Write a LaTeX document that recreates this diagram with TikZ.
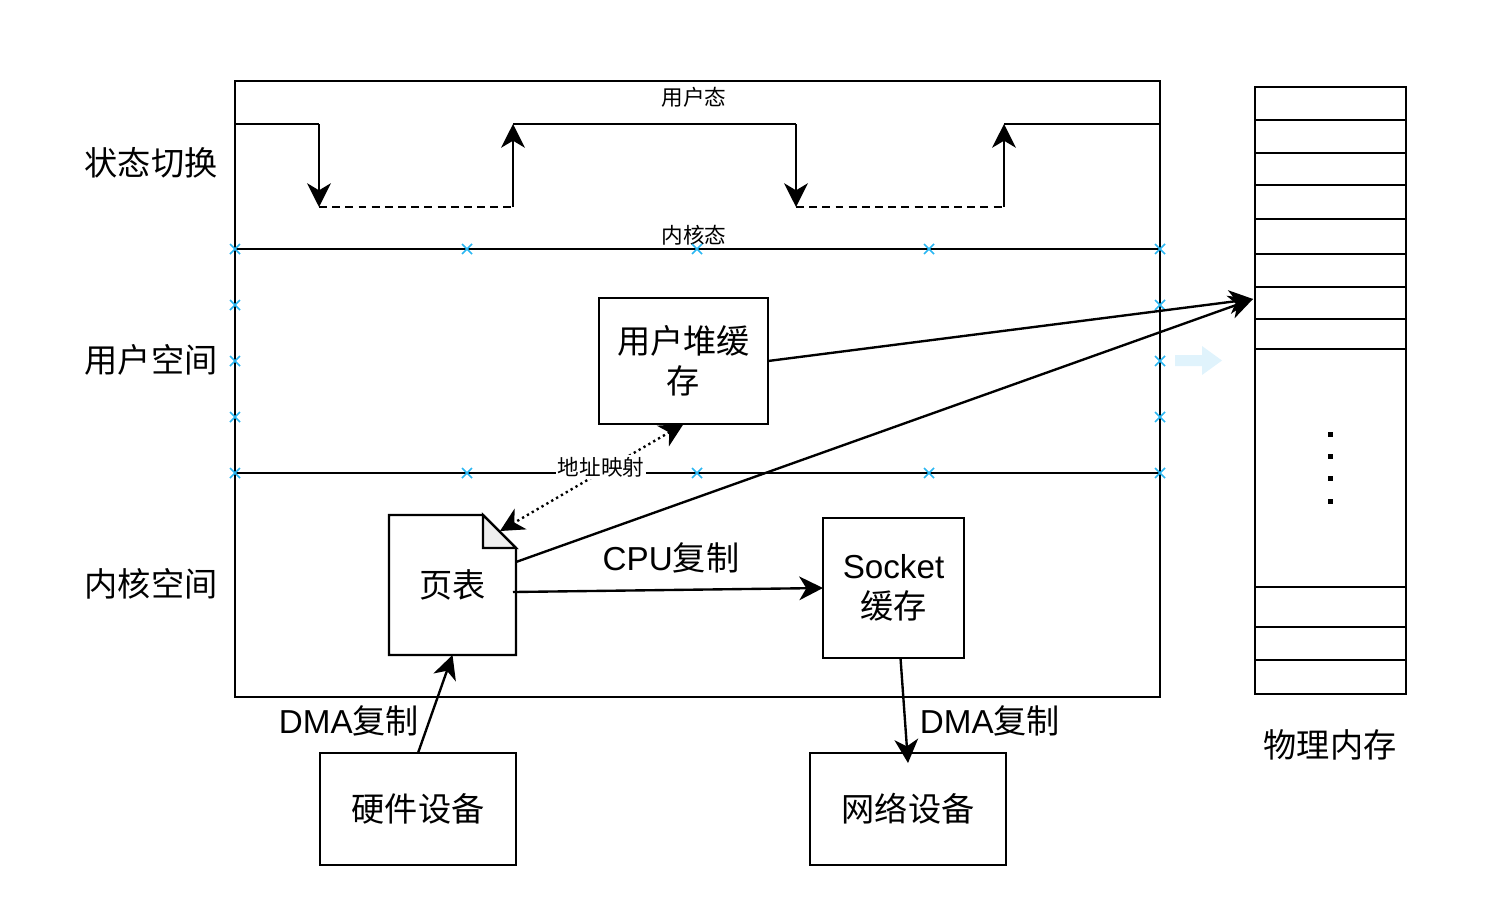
\documentclass[tikz,border=0pt]{standalone}
\usepackage{fontspec}
\setmainfont{Liberation Sans}
\newfontfamily\cjk{Noto Sans CJK SC}
\usetikzlibrary{arrows.meta,calc}

\newcommand\bigtxt{\cjk\fontsize{18.9}{23}\selectfont}
\newcommand\smalltxt{\cjk\fontsize{12.3}{15}\selectfont}
\newcommand\lat[1]{{\rmfamily #1}}

\definecolor{handleblue}{RGB}{41,182,242}
\definecolor{ghostblue}{RGB}{224,243,252}
\definecolor{foldgray}{RGB}{238,238,238}

\begin{document}
\begin{tikzpicture}[x=0.02cm, y=-0.02cm, >={Stealth[length=13.5pt,width=13.5pt,inset=4pt]},
  line/.style={line width=1.35pt},
  box/.style={draw, line width=1.35pt, inner sep=0pt, outer sep=0pt, align=center, font=\bigtxt},
  label/.style={font=\bigtxt, align=center},
  tiny/.style={font=\smalltxt, inner sep=1pt},
  handle/.style={draw=handleblue, line width=0.9pt}]
\useasboundingbox (0,0) rectangle (1486,910);

% ===== frame with the two layers =====
\draw[line] (235,81) rectangle (1160,697);
\draw[line] (235,249) -- (1160,249);
\draw[line] (235,473) -- (1160,473);

% row titles on the left
\node[label] (rowstate) at (151,163) {状态切换};
\node[label] (rowuser) at (151,360) {用户空间};
\node[label] (rowkernel) at (151,584) {内核空间};

% ===== state switching (user <-> kernel) =====
\node[tiny] (umode) at (694,97) {用户态};
\node[tiny] (kmode) at (694,235) {内核态};
\draw[line] (235,124) -- (319,124);
\draw[line,->] (319,124) -- (319,207);
\draw[line,dashed,dash pattern=on 4.5pt off 3pt] (319,207) -- (513,207);
\draw[line,->] (513,207) -- (513,124);
\draw[line] (513,124) -- (796,124);
\draw[line,->] (796,124) -- (796,207);
\draw[line,dashed,dash pattern=on 4.5pt off 3pt] (796,207) -- (1004,207);
\draw[line,->] (1004,207) -- (1004,124);
\draw[line] (1004,124) -- (1160,124);

% selection handles (blue crosses)
\foreach \x in {235,467,697,929,1160}
  \foreach \y in {249,473}
    \draw[handle] (\x-5,\y-5) -- (\x+5,\y+5) (\x-5,\y+5) -- (\x+5,\y-5);
\foreach \x in {235,1160}
  \foreach \y in {305,361,417}
    \draw[handle] (\x-5,\y-5) -- (\x+5,\y+5) (\x-5,\y+5) -- (\x+5,\y-5);

% faint hint arrow
\fill[ghostblue] (1175,355) -- (1202,355) -- (1202,346) -- (1222,360.5)
  -- (1202,375) -- (1202,366) -- (1175,366) -- cycle;

% ===== boxes =====
\node[box, minimum width=3.38cm, minimum height=2.52cm] (buf) at (683.5,361) {用户堆缓\\存};
\node[box, minimum width=2.82cm, minimum height=2.80cm] (sock) at (893.5,588) {\lat{Socket}\\缓存};
\node[box, minimum width=3.92cm, minimum height=2.24cm] (hw) at (418,809) {硬件设备};
\node[box, minimum width=3.92cm, minimum height=2.24cm] (net) at (908,809) {网络设备};

% page table: document shape with folded corner
\node[inner sep=0pt, outer sep=0pt, minimum width=2.54cm, minimum height=2.80cm, font=\bigtxt] (pt) at (452.5,585) {页表};
\draw[line] (pt.north west) -- ($(pt.north east)+(-33,0)$) -- ($(pt.north east)+(0,33)$)
  -- (pt.south east) -- (pt.south west) -- cycle;
\filldraw[line, fill=foldgray] ($(pt.north east)+(-33,0)$) -- ($(pt.north east)+(-33,33)$)
  -- ($(pt.north east)+(0,33)$) -- cycle;

% ===== physical memory =====
\node[draw, line width=1.35pt, inner sep=0pt, outer sep=0pt, minimum width=3.02cm, minimum height=12.14cm] (mem) at (1330.5,390.5) {};
\foreach \y in {120,153,185,219,254,287,319,349,587,627,660}
  \draw[line] (1255,\y) -- (1406,\y);
\foreach \y in {434.5,456.5,478.5,501.5}
  \fill (1327.5,\y-2.5) rectangle (1332.5,\y+2.5);
\node[label] (memtitle) at (1330,745) {物理内存};
\coordinate (memhit) at (1253,299);

% ===== connectors =====
\draw[line,->] (buf.east) -- (memhit);
\draw[line,->] ($(pt.east)+(0,-23)$) -- (memhit);
\draw[line,<->,dash pattern=on 1.3pt off 1.9pt] (buf.south) -- ($(pt.north east)+(-16,16)$);
\node[tiny, fill=white] (mapping) at (601,467) {地址映射};
\draw[line,->] ($(pt.east)+(-3,7)$) -- (sock.west);
\node[label] (cpucopy) at (671,558) {\lat{CPU}复制};
\draw[line,->] (hw.north) -- (pt.south);
\node[label] (dmain) at (349,721) {\lat{DMA}复制};
\draw[line,->] ($(sock.south)+(7,0)$) -- ($(net.north)+(0,10)$);
\node[label] (dmaout) at (990,721) {\lat{DMA}复制};
\end{tikzpicture}
\end{document}
